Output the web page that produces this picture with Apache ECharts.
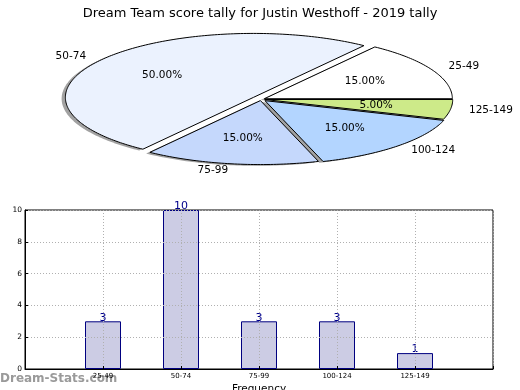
<!DOCTYPE html>
<html>
<head>
<meta charset="utf-8">
<script src="https://cdn.jsdelivr.net/npm/echarts@6/dist/echarts.min.js"></script>
<style>
html,body{margin:0;padding:0;background:#fff;}
#chart{width:520px;height:390px;}
</style>
</head>
<body>
<div id="chart"></div>
<script>
// ---- data ----
const titleText = 'Dream Team score tally for Justin Westhoff - 2019 tally';
const categories = ['25-49', '50-74', '75-99', '100-124', '125-149'];
const counts = [3, 10, 3, 3, 1];
const yMin = 0, yMax = 10, yStep = 2;

// ---- styles ----
const FONT = 'DejaVu Sans';
const sliceColors = ['#ffffff', '#ebf2fe', '#c5d8fc', '#b3d5ff', '#cdea89'];
const explode = [0.02, 0.05, 0.02, 0.03, 0.02];
const total = counts.reduce((a, b) => a + b, 0);

function wedgeGeom(i) {
  let before = 0;
  for (let k = 0; k < i; k++) before += counts[k];
  const a0 = before / total * 2 * Math.PI;
  const a1 = (before + counts[i]) / total * 2 * Math.PI;
  const mid = (a0 + a1) / 2;
  return { a0, a1, mid, cu: explode[i] * Math.cos(mid), cv: explode[i] * Math.sin(mid) };
}
function wedgePoints(api, g, du, dv) {
  const pts = [api.coord([g.cu + du, g.cv + dv])];
  const n = Math.max(2, Math.ceil((g.a1 - g.a0) / (Math.PI / 180)));
  for (let s = 0; s <= n; s++) {
    const a = g.a0 + (g.a1 - g.a0) * s / n;
    pts.push(api.coord([g.cu + du + Math.cos(a), g.cv + dv + Math.sin(a)]));
  }
  return pts;
}

const pieData = counts.map((c, i) => [i, c]);
const axisData = [''].concat(categories).concat(['']);
const barData = ['-'].concat(counts).concat(['-']);

const chart = echarts.init(document.getElementById('chart'), null, { renderer: 'canvas' });
chart.setOption({
  animation: false,
  backgroundColor: '#ffffff',
  textStyle: { fontFamily: FONT },
  title: {
    text: titleText, left: 'center', top: 2,
    textStyle: { fontFamily: FONT, fontSize: 13, fontWeight: 'normal', color: '#000' }
  },
  graphic: [{
    type: 'text', left: 0, top: 373, z: 0,
    style: { text: 'Dream-Stats.com', font: 'bold 12px "DejaVu Sans"', fill: '#9a9a9a' }
  }],
  grid: [
    { left: 25, right: 27, top: 210, bottom: 21, show: true, borderColor: '#000', borderWidth: 1,
      backgroundColor: 'transparent', containLabel: false, outerBoundsMode: 'none' },
    { left: 16.6, right: 14.6, top: 16.1, bottom: 207.5, show: false, containLabel: false, outerBoundsMode: 'none' }
  ],
  xAxis: [
    {
      gridIndex: 0, type: 'category', data: axisData, boundaryGap: false, z: 3,
      name: 'Frequency', nameLocation: 'middle', nameGap: 15,
      nameTextStyle: { fontFamily: FONT, fontSize: 10.5, color: '#000', verticalAlign: 'top' },
      axisLine: { show: true, lineStyle: { color: '#000', width: 1 } },
      axisTick: { show: true, inside: true, length: 3, lineStyle: { color: '#000' } },
      axisLabel: { fontFamily: FONT, fontSize: 7, color: '#000', margin: 4 },
      splitLine: { show: true, lineStyle: { color: '#b0b0b0', type: [1, 2], width: 1 } }
    },
    { gridIndex: 1, type: 'value', min: -1.3, max: 1.3, show: false }
  ],
  yAxis: [
    {
      gridIndex: 0, type: 'value', min: yMin, max: yMax, interval: yStep, z: 3,
      name: 'Stat Intervals', nameLocation: 'middle', nameGap: 13, nameRotate: 90,
      nameTextStyle: { fontFamily: FONT, fontSize: 10.5, color: '#000' },
      axisLine: { show: true, lineStyle: { color: '#000', width: 1 } },
      axisTick: { show: true, inside: true, length: 3, lineStyle: { color: '#000' } },
      axisLabel: { fontFamily: FONT, fontSize: 7.5, color: '#000', margin: 3 },
      splitLine: { show: true, lineStyle: { color: '#b0b0b0', type: [1, 2], width: 1 } }
    },
    { gridIndex: 1, type: 'value', min: -1.3, max: 1.3, show: false }
  ],
  series: [
    {
      type: 'bar', xAxisIndex: 0, yAxisIndex: 0, data: barData, barWidth: 36, z: 2,
      itemStyle: { color: '#ccccE4', borderColor: '#000080', borderWidth: 1 },
      label: { show: true, position: 'top', distance: -2, fontFamily: FONT, fontSize: 11, color: '#00008b' }
    },
    {
      type: 'custom', coordinateSystem: 'cartesian2d', xAxisIndex: 1, yAxisIndex: 1, z: 1,
      data: pieData, silent: true,
      renderItem: function (params, api) {
        const i = api.value(0);
        const g = wedgeGeom(i);
        return {
          type: 'polygon',
          shape: { points: wedgePoints(api, g, -0.02, -0.02) },
          style: { fill: 'rgba(60,60,60,0.48)', stroke: null }
        };
      }
    },
    {
      type: 'custom', coordinateSystem: 'cartesian2d', xAxisIndex: 1, yAxisIndex: 1, z: 2,
      data: pieData, silent: true,
      renderItem: function (params, api) {
        const i = api.value(0);
        const g = wedgeGeom(i);
        const c = Math.cos(g.mid), s = Math.sin(g.mid);
        const pPct = api.coord([g.cu + 0.6 * c, g.cv + 0.6 * s]);
        const pLab = api.coord([g.cu + 1.1 * c, g.cv + 1.1 * s]);
        const pct = (api.value(1) / total * 100).toFixed(2) + '%';
        return {
          type: 'group',
          children: [
            {
              type: 'polygon',
              shape: { points: wedgePoints(api, g, 0, 0) },
              style: { fill: sliceColors[i], stroke: '#000', lineWidth: 1, lineJoin: 'round' }
            },
            {
              type: 'text', z2: 10,
              style: { text: pct, x: pPct[0], y: pPct[1], align: 'center', verticalAlign: 'middle',
                       font: '10.5px "DejaVu Sans"', fill: '#000' }
            },
            {
              type: 'text', z2: 10,
              style: { text: categories[i], x: pLab[0], y: pLab[1], align: c >= 0 ? 'left' : 'right',
                       verticalAlign: 'middle', font: '10.5px "DejaVu Sans"', fill: '#000' }
            }
          ]
        };
      }
    }
  ]
});
</script>
</body>
</html>
